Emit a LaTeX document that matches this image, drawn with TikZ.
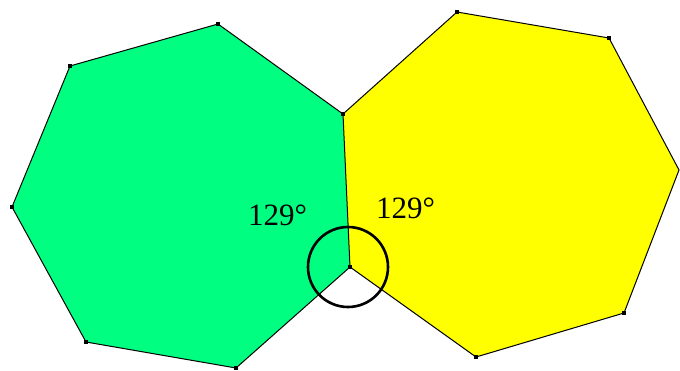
\documentclass[tikz,border=0pt]{standalone}
\usepackage{fontspec}
\setmainfont{Liberation Serif}
\usepackage{tikz}
\usepackage{xcolor}
\usetikzlibrary{calc}
\definecolor{cGreen}{RGB}{0,255,128}
\definecolor{cYellow}{RGB}{255,255,0}
\tikzset{
	polyedge/.style ={draw=black, line width=1pt, line join=miter},
	vdot/.style     ={rectangle, fill=black, minimum size=3.5pt, inner sep=0pt},
	anglemark/.style={draw=black, line width=2.6pt},
	anglelbl/.style ={font=\fontsize{31}{36}\selectfont, inner sep=0pt, anchor=base west},
}
\begin{document}
\begin{tikzpicture}[x=1pt, y=-1pt]
	\useasboundingbox (0,0) rectangle (680,370);
	% shared corners
	\coordinate (S1) at (343,114);
	\coordinate (S2) at (350,267);
	% green heptagon
	\coordinate (G1) at (218,24);
	\coordinate (G2) at (236,368);
	\coordinate (G3) at (86,342);
	\coordinate (G4) at (12,207);
	\coordinate (G5) at (70,66);
	% yellow heptagon
	\coordinate (Y1) at (457,12);
	\coordinate (Y2) at (609,38);
	\coordinate (Y3) at (679,170);
	\coordinate (Y4) at (624,313);
	\coordinate (Y5) at (476,357);
	\fill[cGreen] (G1) -- (S1) -- (S2) -- (G2) -- (G3) -- (G4) -- (G5) -- cycle;
	\fill[cYellow] (Y1) -- (Y2) -- (Y3) -- (Y4) -- (Y5) -- (S2) -- (S1) -- cycle;
	\draw[polyedge] (G1) -- (S1) -- (S2) -- (G2) -- (G3) -- (G4) -- (G5) -- cycle;
	\draw[polyedge] (S1) -- (Y1) -- (Y2) -- (Y3) -- (Y4) -- (Y5) -- (S2);
	\foreach \p in {G1,G2,G3,G4,G5,S1,S2,Y1,Y2,Y4,Y5}
		\node[vdot] at (\p) {};
	% angle mark
	\draw[anglemark] ($(S2)+(-2,0)$) circle[radius=40];
	\node[anglelbl] (lblG) at (248,225) {129°};
	\node[anglelbl] (lblY) at (376,218) {129°};
\end{tikzpicture}
\end{document}
